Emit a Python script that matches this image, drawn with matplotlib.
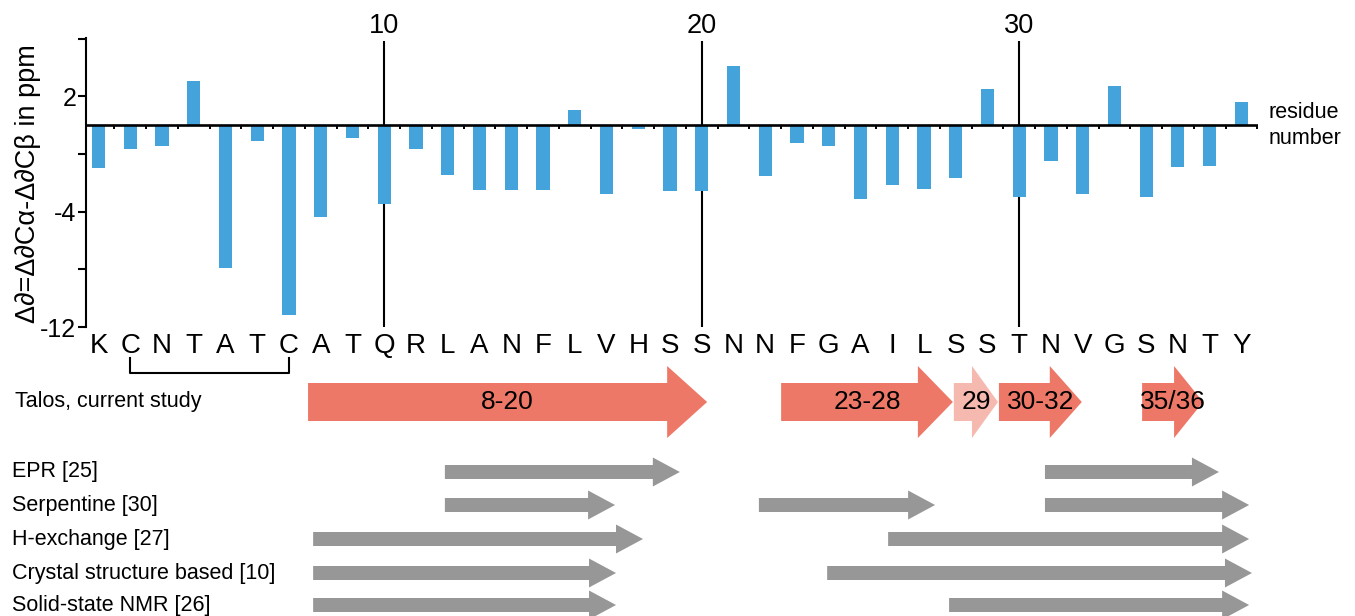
import numpy as np
import matplotlib
matplotlib.use('Agg')
import matplotlib.pyplot as plt
from matplotlib.patches import FancyArrow

plt.rcParams['font.family'] = ['Liberation Sans', 'DejaVu Sans']

# ---------------- data ----------------
residues = list("KCNTATCATQRLANFLVHSSNNFGAILSSTNVGSNTY")
shifts = [-2.58, -1.45, -1.27, 2.58, -8.50, -0.98, -11.29, -5.48, -0.80, -4.71,
          -1.45, -2.99, -3.88, -3.88, -3.88, 0.86, -4.12, -0.27, -3.94, -3.94,
          3.47, -3.05, -1.10, -1.27, -4.41, -3.59, -3.82, -3.17, 2.10, -4.30,
          -2.16, -4.12, 2.28, -4.30, -2.52, -2.46, 1.33]
ytick_pos = [5.10, 1.69, -1.75, -5.16, -8.56, -12.0]
ytick_labels = ['', '2', '', '-4', '', '-12']
major_residues = [10, 20, 30]

talos_labels = ['8-20', '23-28', '29', '30-32', '35/36']
talos_starts = [7.60, 22.50, 27.94, 29.36, 33.87]
talos_ends = [20.17, 27.91, 29.33, 31.97, 35.79]
talos_light = [False, False, True, False, False]

methods = ["EPR [25]", "Serpentine [30]", "H-exchange [27]",
           "Crystal structure based [10]", "Solid-state NMR [26]"]
method_starts = [[11.91, 30.81], [11.91, 21.80, 30.81], [7.76, 25.87],
                 [7.76, 23.95], [7.76, 27.79]]
method_ends = [[19.31, 36.29], [17.27, 27.35, 37.24], [18.15, 37.24],
               [17.30, 37.33], [17.30, 37.24]]

# ---------------- style ----------------
W, H = 1355, 616
BLUE = '#45A3DB'
SALMON = '#EE7868'
LIGHT = '#F6B9B0'
GREY = '#979797'
PX_PER_RES = 31.75

fig = plt.figure(figsize=(W / 100, H / 100), dpi=100)
ax = fig.add_axes([86 / W, 1 - 327 / H, 1172 / W, 289 / H])
x = np.arange(1, len(residues) + 1)
ax.bar(x, shifts, width=0.41, color=BLUE, zorder=2)
ax.set_xlim(0.606, 37.52)
ax.set_ylim(-12, 5.13)

ax.axhline(0, color='black', lw=1.9, zorder=3)
ax.vlines(np.arange(1.5, len(residues) + 1, 1), -0.24, 0, color='black', lw=1.4, zorder=3)
ax.vlines(major_residues, -12, 4.95, color='black', lw=1.5, zorder=1)
for r in major_residues:
    ax.text(r, 5.84, str(r), ha='center', va='center', fontsize=19.5, clip_on=False)

for s in ['top', 'right', 'bottom']:
    ax.spines[s].set_visible(False)
ax.spines['left'].set_linewidth(1.5)
ax.set_xticks([])
ax.set_yticks(ytick_pos, ytick_labels)
ax.tick_params(axis='y', length=6, width=1.5, labelsize=18, pad=1)

for xi, r in zip(x, residues):
    ax.text(xi, -13.13, r, ha='center', va='center', fontsize=20, clip_on=False)
ax.plot([2, 2, 7, 7], [-13.84, -14.73, -14.73, -13.84], color='black', lw=1.5, clip_on=False)

fig.text(28 / W, 1 - 183.5 / H, 'Δ∂=Δ∂Cα-Δ∂Cβ in ppm', rotation=90,
         ha='center', va='center', fontsize=19.5)
fig.text(1269 / W, 1 - 113 / H, 'residue', ha='left', va='center', fontsize=15.5)
fig.text(1269 / W, 1 - 139 / H, 'number', ha='left', va='center', fontsize=15.5)

# ---------------- lower arrow panel ----------------
ax2 = fig.add_axes([86 / W, 0, 1172 / W, 266 / H])
ax2.set_xlim(0.606, 37.52)
ax2.set_ylim(616, 350)
ax2.axis('off')

talos_y = 402
talos_head_px = [40, 35, 26, 32, 29]
for s, e, lab, light, hl in zip(talos_starts, talos_ends, talos_labels, talos_light, talos_head_px):
    arr = FancyArrow(s, talos_y, e - s, 0, width=38, head_width=72,
                     head_length=hl / PX_PER_RES, length_includes_head=True,
                     color=LIGHT if light else SALMON, lw=0)
    ax2.add_patch(arr)
    ax2.text((s + e) / 2, talos_y, lab, ha='center', va='center', fontsize=19)
fig.text(15 / W, 1 - talos_y / H, 'Talos, current study', ha='left', va='center', fontsize=15.5)

row_y = [472, 505, 539, 573, 605]
for name, starts, ends, yy in zip(methods, method_starts, method_ends, row_y):
    for s, e in zip(starts, ends):
        arr = FancyArrow(s, yy, e - s, 0, width=14, head_width=29,
                         head_length=27 / PX_PER_RES, length_includes_head=True,
                         color=GREY, lw=0)
        ax2.add_patch(arr)
    fig.text(12 / W, 1 - yy / H, name, ha='left', va='center', fontsize=15.5)

fig.savefig('out.png', dpi=100)
